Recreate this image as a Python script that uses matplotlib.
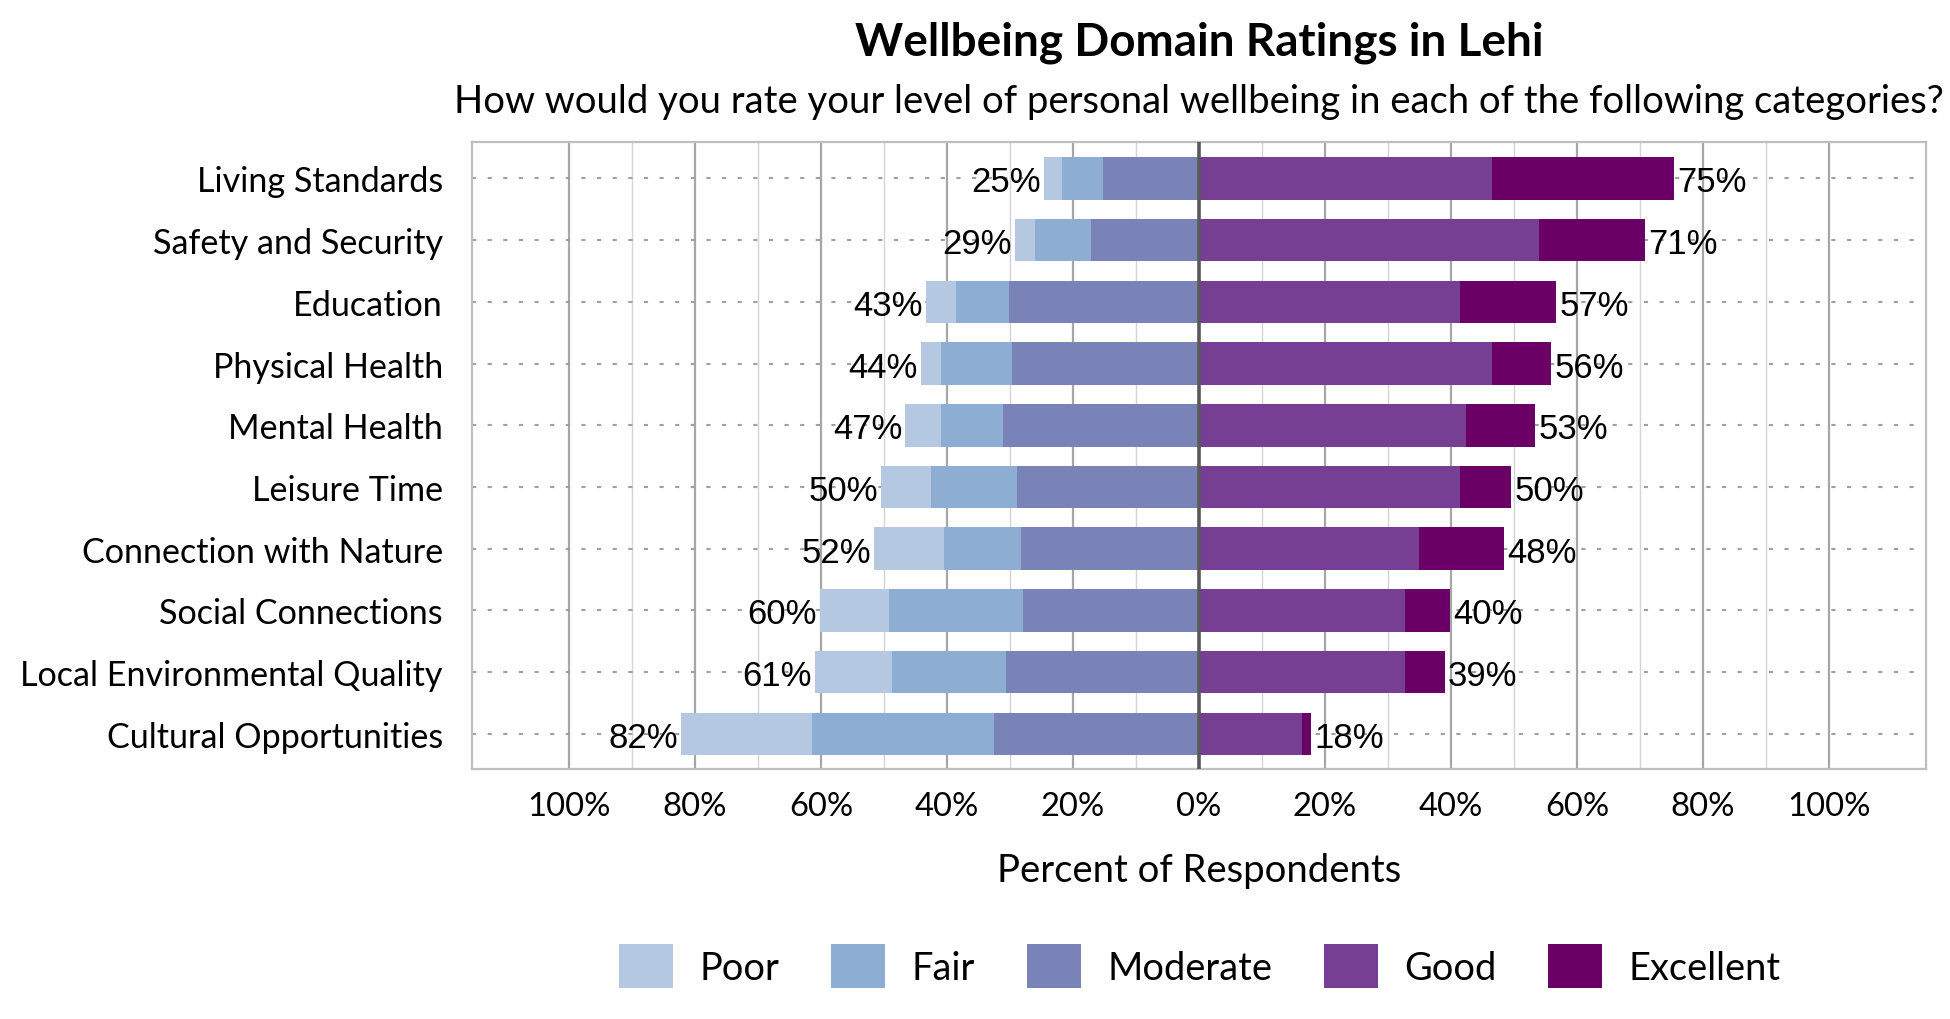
import numpy as np
import matplotlib.pyplot as plt

# categories from top to bottom
categories = ["Living Standards", "Safety and Security", "Education", "Physical Health",
              "Mental Health", "Leisure Time", "Connection with Nature", "Social Connections",
              "Local Environmental Quality", "Cultural Opportunities"]

# percent of respondents for each rating
poor = [2.9, 3.2, 4.7, 3.1, 5.6, 7.9, 11.1, 10.9, 12.2, 20.8]
fair = [6.5, 8.8, 8.4, 11.3, 9.9, 13.6, 12.3, 21.3, 18.2, 28.8]
moderate = [15.2, 17.2, 30.2, 29.7, 31.1, 28.9, 28.2, 27.9, 30.6, 32.6]
good = [46.5, 53.9, 41.4, 46.5, 42.4, 41.5, 35.0, 32.7, 32.7, 16.3]
excellent = [28.9, 16.9, 15.3, 9.4, 11.0, 8.1, 13.4, 7.2, 6.3, 1.5]

ratings = ["Poor", "Fair", "Moderate", "Good", "Excellent"]
colors = ["#B4C8E1", "#8DAED2", "#7A83B8", "#763F94", "#6A0066"]

tick_values = [-100, -80, -60, -40, -20, 0, 20, 40, 60, 80, 100]

poor = np.array(poor)
fair = np.array(fair)
moderate = np.array(moderate)
good = np.array(good)
excellent = np.array(excellent)

neg_total = poor + fair + moderate
pos_total = good + excellent

y = np.arange(len(categories))

fig = plt.figure(figsize=(19.5, 10.2), dpi=100)
ax = fig.add_axes([472 / 1950, 1 - 770 / 1020, (1926 - 472) / 1950, (770 - 143) / 1020])

label_font = "Lato"
num_font = "Liberation Sans"

# vertical gridlines, darker every 20%
for v in range(-100, 101, 10):
    if v == 0:
        continue
    if v % 20 == 0:
        ax.axvline(v, color="#A6A6A6", lw=1.6, zorder=0)
    else:
        ax.axvline(v, color="#D4D4D4", lw=1.0, zorder=0)

# dotted line through each category
for yy in y:
    ax.axhline(yy, color="#A0A0A0", lw=1.5, linestyle=(0, (2, 5.5)), zorder=1)

h = 0.69
ax.barh(y, -moderate, height=h, color=colors[2], label=ratings[2], zorder=2)
ax.barh(y, -fair, left=-moderate, height=h, color=colors[1], label=ratings[1], zorder=2)
ax.barh(y, -poor, left=-(moderate + fair), height=h, color=colors[0], label=ratings[0], zorder=2)
ax.barh(y, good, height=h, color=colors[3], label=ratings[3], zorder=2)
ax.barh(y, excellent, left=good, height=h, color=colors[4], label=ratings[4], zorder=2)

ax.axvline(0, color="#595959", lw=2.6, zorder=3)

# total labels on both ends
for yy, n, p in zip(y, neg_total, pos_total):
    ax.text(-n - 0.5, yy, f"{n:.0f}%", ha="right", va="center_baseline", fontsize=25,
            family=num_font, zorder=4)
    ax.text(p + 0.5, yy, f"{p:.0f}%", ha="left", va="center_baseline", fontsize=25,
            family=num_font, zorder=4)

ax.set_xlim(-115.4, 115.4)
ax.set_ylim(9.57, -0.59)
ax.set_yticks(y)
ax.set_yticklabels(categories, fontsize=24.6, family=label_font)
ax.set_xticks(tick_values)
ax.set_xticklabels([f"{abs(v)}%" for v in tick_values], fontsize=23.6, family=label_font)
ax.tick_params(axis="y", length=0, pad=21)
ax.tick_params(axis="x", length=0, pad=16)

for s in ax.spines.values():
    s.set_color("#BFBFBF")
    s.set_linewidth(1.6)

ax.set_xlabel("Percent of Respondents", fontsize=27.5, family=label_font, labelpad=22)

fig.text(1199 / 1950, 1 - 43 / 1020, "Wellbeing Domain Ratings in Lehi", ha="center", va="center",
         fontsize=33, fontweight="bold", family=label_font)
fig.text(1199 / 1950, 1 - 102 / 1020,
         "How would you rate your level of personal wellbeing in each of the following categories?",
         ha="center", va="center", fontsize=27.5, family=label_font)

# legend in rating order
handles, labels = ax.get_legend_handles_labels()
order = [labels.index(r) for r in ratings]
fig.legend([handles[i] for i in order], [labels[i] for i in order], loc="center",
           bbox_to_anchor=(1200 / 1950, 1 - 967 / 1020), ncol=5, frameon=False,
           prop={"family": label_font, "size": 27.4}, handlelength=1.42, handleheight=1.4,
           handletextpad=0.7, columnspacing=1.35)

fig.savefig("out.png", dpi=100)
